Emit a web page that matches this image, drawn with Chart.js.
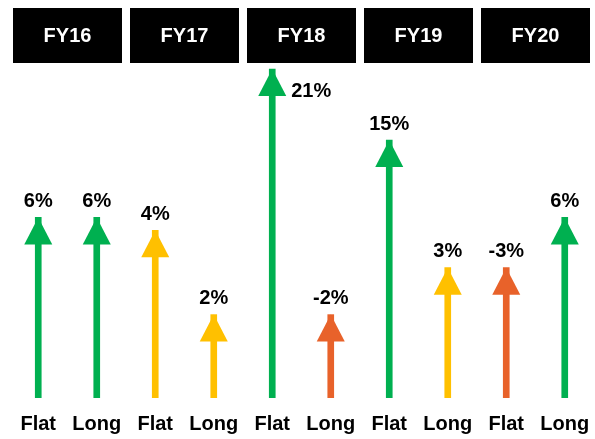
<!DOCTYPE html>
<html>
<head>
<meta charset="utf-8">
<script src="https://cdn.jsdelivr.net/npm/chart.js@4/dist/chart.umd.min.js"></script>
<style>
	html, body { margin: 0; padding: 0; background: #fff; }
	#wrap { width: 595px; height: 439px; }
</style>
</head>
<body>
<div id="wrap"><canvas id="arrows"></canvas></div>
<script>
// fiscal years, each one covers a Flat + Long pair
var years = [ 'FY16', 'FY17', 'FY18', 'FY19', 'FY20' ];
var tenors = [ 'Flat', 'Long', 'Flat', 'Long', 'Flat', 'Long', 'Flat', 'Long', 'Flat', 'Long' ];
// printed change per column (%)
var growth = [ 6, 6, 4, 2, 21, -2, 15, 3, -3, 6 ];
// drawn arrow length (not proportional to growth)
var arrowLength = [ 6.0, 6.0, 5.57, 2.77, 10.93, 2.77, 8.57, 4.33, 4.33, 6.0 ];

var FONT = '"Liberation Sans", Arial, sans-serif';

function colorFor( v ) {
	if ( v < 0 ) return '#E8622A';
	if ( v < 5 ) return '#FFC000';
	return '#00B050';
}

/* ═══ HEADER BOXES ═══ */

var headerPlugin = {
	id: 'yearHeaders',
	afterDraw: function( chart ) {
		var ctx = chart.ctx;
		var x = chart.scales.x;
		var half = ( x.getPixelForValue( 1 ) - x.getPixelForValue( 0 ) ) / 2;
		ctx.save();
		ctx.font = 'bold 20px ' + FONT;
		ctx.textAlign = 'center';
		ctx.textBaseline = 'middle';
		for ( var i = 0; i < years.length; i++ ) {
			var l = x.getPixelForValue( i * 2 ) - half + 4;
			var r = x.getPixelForValue( i * 2 + 1 ) + half - 4;
			ctx.fillStyle = '#000';
			ctx.fillRect( l, 8, r - l, 55 );
			ctx.fillStyle = '#fff';
			ctx.fillText( years[i], ( l + r ) / 2, 36 );
		}
		ctx.restore();
	}
};

/* ═══ ARROW HEADS + VALUE LABELS ═══ */

var headPlugin = {
	id: 'arrowHeads',
	afterDatasetsDraw: function( chart ) {
		var ctx = chart.ctx;
		var meta = chart.getDatasetMeta( 0 );
		ctx.save();
		for ( var i = 0; i < meta.data.length; i++ ) {
			var bar = meta.data[i];
			ctx.fillStyle = colorFor( growth[i] );
			ctx.beginPath();
			ctx.moveTo( bar.x, bar.y );
			ctx.lineTo( bar.x + 14, bar.y + 27 );
			ctx.lineTo( bar.x - 14, bar.y + 27 );
			ctx.closePath();
			ctx.fill();

			ctx.fillStyle = '#000';
			ctx.font = 'bold 20px ' + FONT;
			ctx.textBaseline = 'middle';
			var txt = growth[i] + '%';
			// no room above the tallest arrow, so put it beside the head
			if ( bar.y - 26 < chart.chartArea.top ) {
				ctx.textAlign = 'left';
				ctx.fillText( txt, bar.x + 19, bar.y + 22 );
			} else {
				ctx.textAlign = 'center';
				ctx.fillText( txt, bar.x, bar.y - 16 );
			}
		}
		ctx.restore();
	}
};

new Chart( document.getElementById( 'arrows' ).getContext( '2d' ), {
	type: 'bar',
	data: {
		labels: tenors,
		datasets: [{
			data: arrowLength,
			backgroundColor: growth.map( colorFor ),
			barThickness: 6,
			borderWidth: 0
		}]
	},
	options: {
		responsive: true,
		maintainAspectRatio: false,
		animation: false,
		layout: { padding: { top: 66, left: 9, right: 1, bottom: 3 } },
		plugins: {
			legend: { display: false },
			tooltip: { enabled: false }
		},
		scales: {
			x: {
				grid: { display: true, drawOnChartArea: false, drawTicks: true, tickLength: 14, color: 'rgba(0,0,0,0)' },
				border: { display: false },
				ticks: {
					color: '#000',
					padding: 0,
					font: { family: FONT, size: 20, weight: 'bold' },
					maxRotation: 0,
					autoSkip: false
				}
			},
			y: {
				display: false,
				min: 0,
				max: 11.03
			}
		}
	},
	plugins: [ headerPlugin, headPlugin ]
});
</script>
</body>
</html>
